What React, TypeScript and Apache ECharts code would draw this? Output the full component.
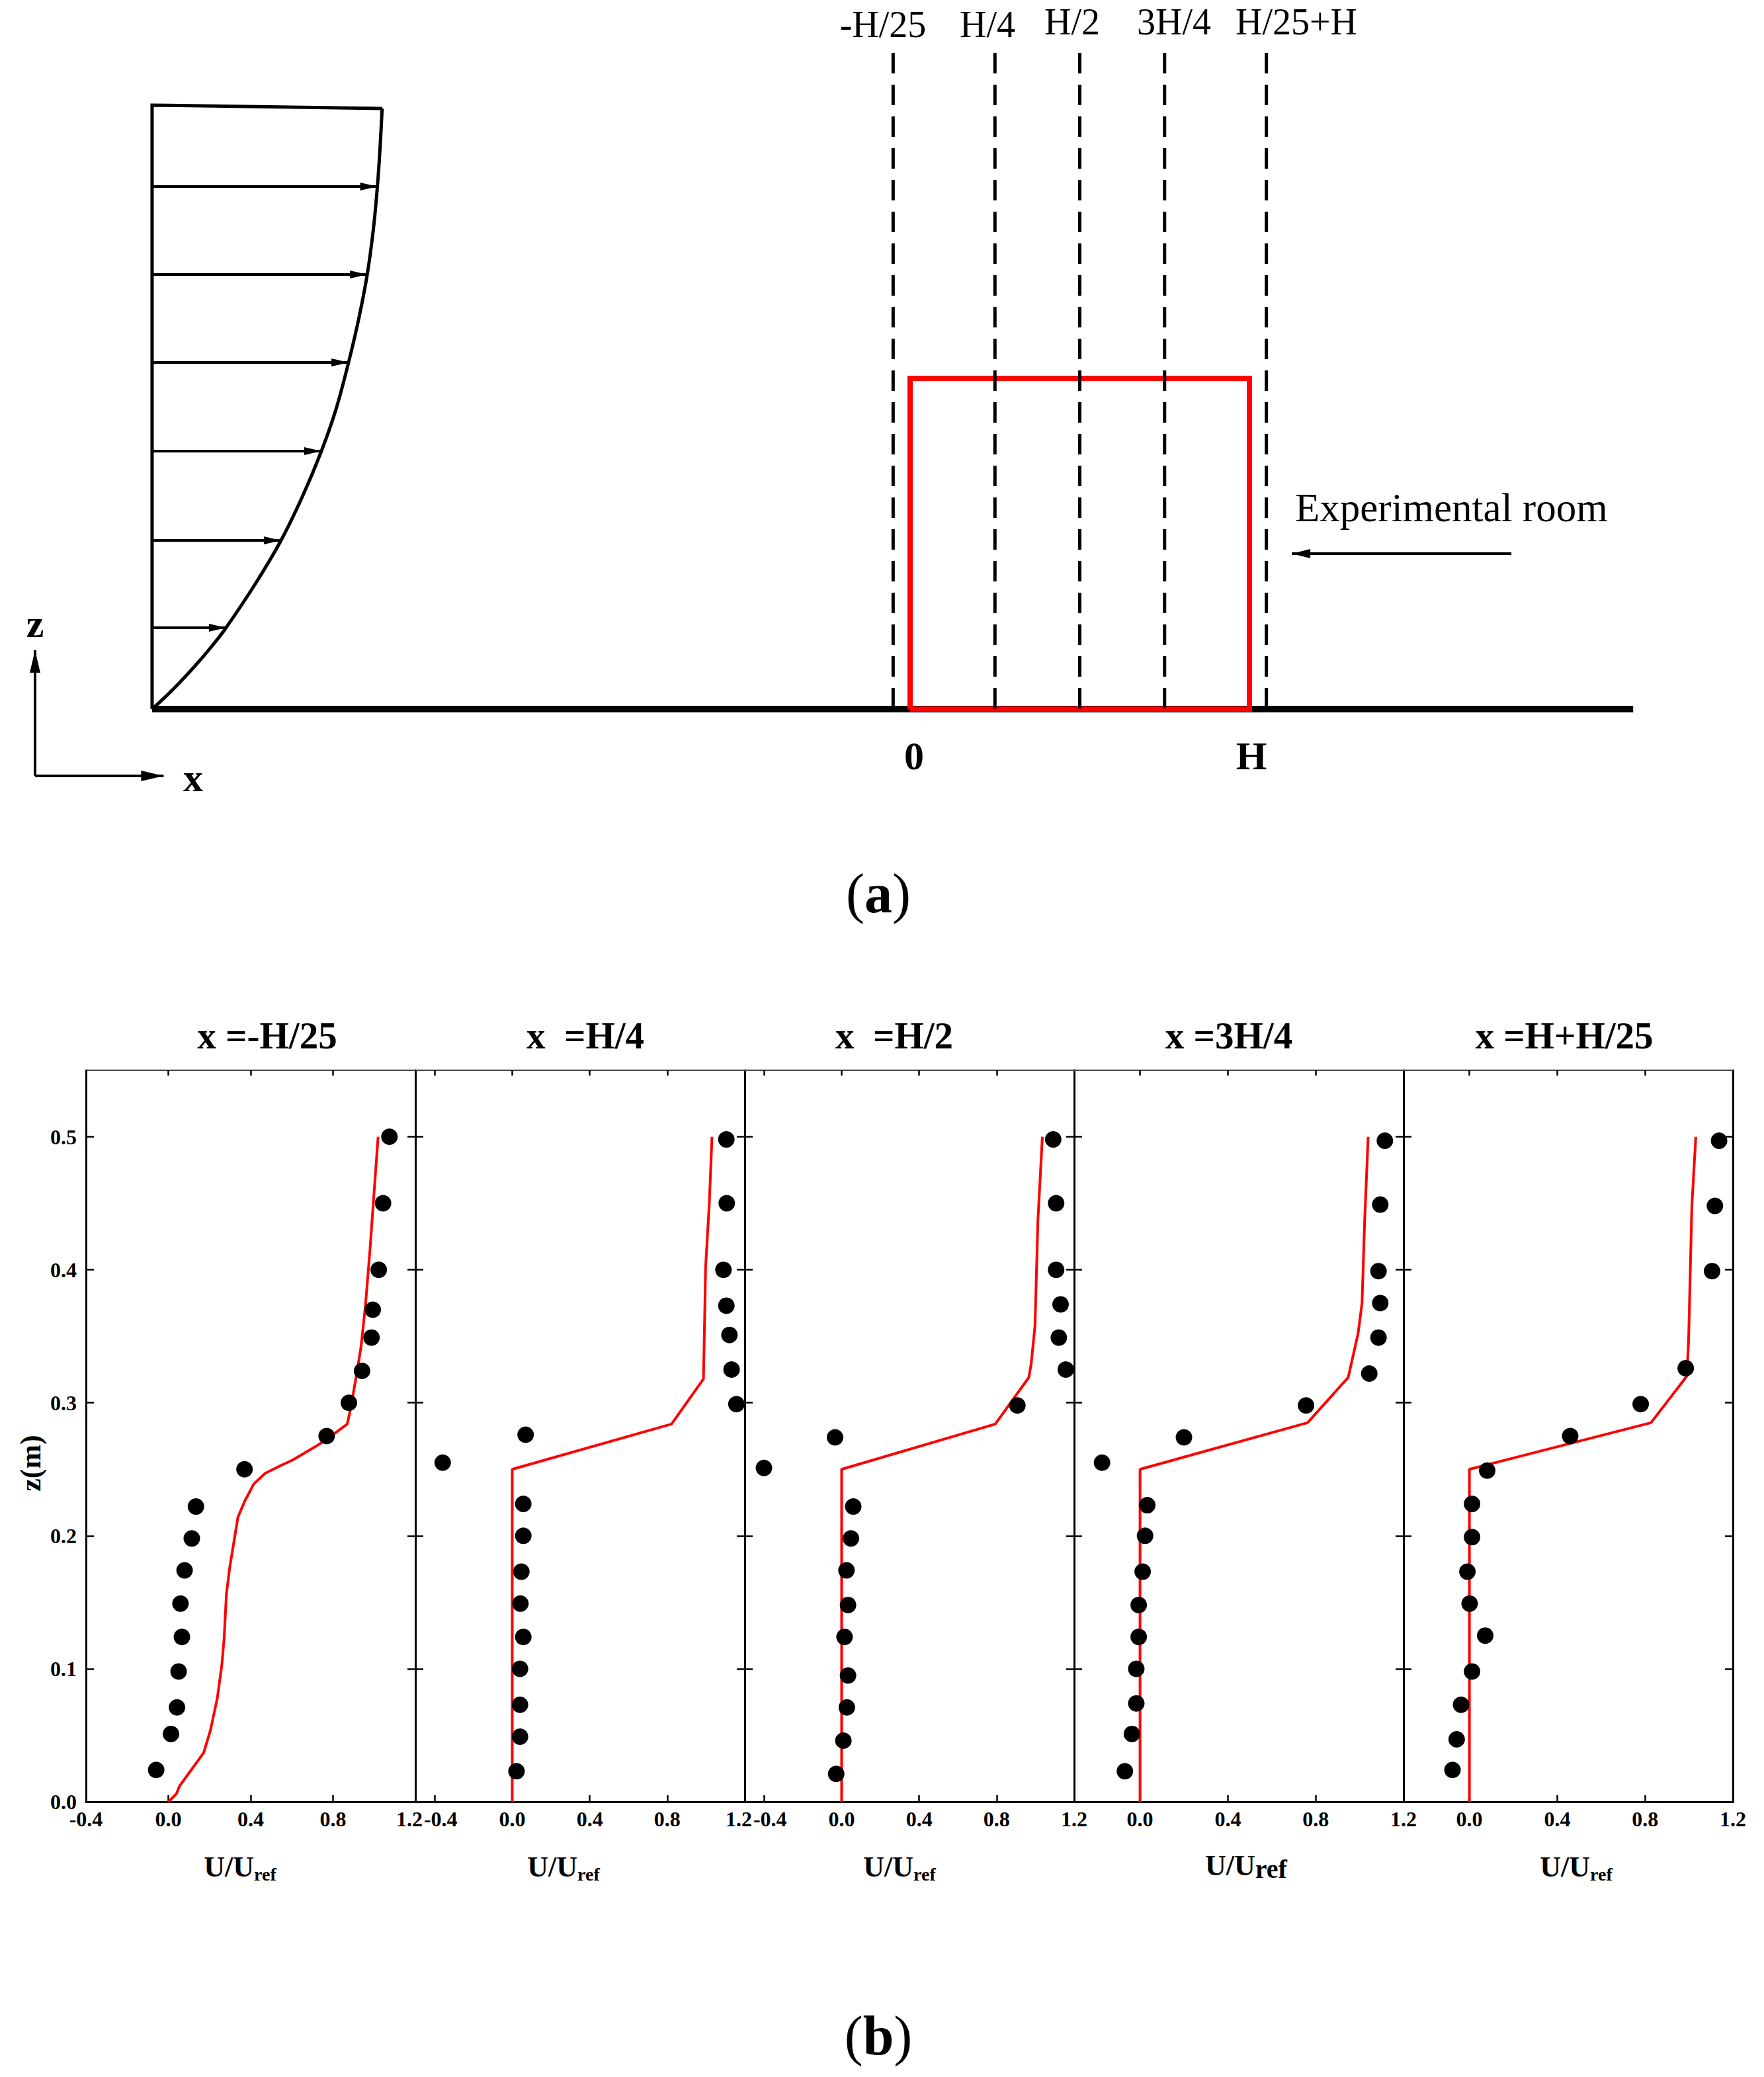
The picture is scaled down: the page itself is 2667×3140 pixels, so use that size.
import React, { useEffect, useRef } from 'react';
import * as echarts from 'echarts';

const W = 2667;
const HGT = 3140;
const SERIF = '"Liberation Serif", "Times New Roman", serif';

// ---------- (a) schematic, in building units (H = 1) ----------
const PROBE_X = [-0.05, 0.25, 0.5, 0.75, 1.05];
const PROBE_LABELS = ['-H/25', 'H/4', 'H/2', '3H/4', 'H/25+H'];
const PROBE_TOP = 1.984;
const BUILDING_X = [0, 1, 1, 0, 0];
const BUILDING_Z = [0, 0, 1, 1, 0];
const INLET_X = -2.234;
const GROUND_END_X = 2.131;
const PROFILE_Z = [0, 0.06, 0.13, 0.19, 0.246, 0.38, 0.51, 0.645, 0.78, 0.91, 1.048, 1.18, 1.314, 1.45, 1.58, 1.7, 1.816];
const PROFILE_U = [0, 0.062, 0.126, 0.176, 0.218, 0.305, 0.38, 0.444, 0.499, 0.543, 0.579, 0.609, 0.634, 0.652, 0.664, 0.672, 0.678];
const PROFILE_TOP_Z = 1.826;
const ARROW_Z = [0.246, 0.51, 0.78, 1.048, 1.314, 1.58];
const ARROW_U = [0.218, 0.38, 0.499, 0.579, 0.634, 0.664];
const ROOM_ARROW_X = [1.772, 1.125];
const ROOM_ARROW_Z = 0.47;
const ICON_ORIGIN = [-2.579, -0.202];
const ICON_Z_TIP = 0.178;
const ICON_X_TIP = -2.2;

// ---------- (b) profiles ----------
const PANEL_TITLES = ['x =-H/25', 'x  =H/4', 'x  =H/2', 'x =3H/4', 'x =H+H/25'];
const PANEL_XMIN = [-0.4, -0.5, -0.5, -0.3, -0.3];
const X_MAX = 1.2;
const X_TICKS = [
  [-0.4, 0, 0.4, 0.8, 1.2],
  [-0.4, 0, 0.4, 0.8],
  [-0.4, 0, 0.4, 0.8],
  [0, 0.4, 0.8],
  [0, 0.4, 0.8],
];
const X_LABELS = [
  [-0.4, 0, 0.4, 0.8, 1.2],
  [-0.4, 0, 0.4, 0.8, 1.2],
  [-0.4, 0, 0.4, 0.8, 1.2],
  [0, 0.4, 0.8, 1.2],
  [0, 0.4, 0.8, 1.2],
];
const Y_MAX = 0.55;
const Y_TICKS = [0.1, 0.2, 0.3, 0.4, 0.5];
const Y_LABELS = [0, 0.1, 0.2, 0.3, 0.4, 0.5];

const EXP_U_1 = [1.074, 1.043, 1.022, 0.993, 0.987, 0.941, 0.877, 0.769, 0.37, 0.134, 0.114, 0.079, 0.059, 0.066, 0.05, 0.042, 0.013, -0.059];
const EXP_Z_1 = [0.5, 0.45, 0.4, 0.37, 0.349, 0.324, 0.3, 0.275, 0.25, 0.222, 0.198, 0.174, 0.149, 0.124, 0.098, 0.071, 0.051, 0.024];
const CFD_U_1 = [0, 0.039, 0.055, 0.116, 0.172, 0.205, 0.238, 0.26, 0.271, 0.282, 0.299, 0.316, 0.338, 0.371, 0.415, 0.471, 0.548, 0.604, 0.714, 0.764, 0.869, 0.886, 0.914, 0.936, 0.958, 0.98, 0.997, 1.019];
const CFD_Z_1 = [0, 0.006, 0.012, 0.025, 0.037, 0.054, 0.078, 0.103, 0.123, 0.156, 0.177, 0.193, 0.214, 0.226, 0.239, 0.247, 0.253, 0.257, 0.267, 0.272, 0.284, 0.296, 0.321, 0.342, 0.374, 0.416, 0.453, 0.5];

const EXP_U_2 = [1.105, 1.107, 1.09, 1.105, 1.121, 1.132, 1.157, 0.069, -0.359, 0.057, 0.057, 0.047, 0.042, 0.057, 0.04, 0.04, 0.04, 0.022];
const EXP_Z_2 = [0.498, 0.45, 0.4, 0.373, 0.351, 0.325, 0.299, 0.276, 0.255, 0.224, 0.2, 0.173, 0.149, 0.124, 0.1, 0.073, 0.049, 0.023];
const CFD_U_2 = [0, 0, 0.822, 0.987, 0.998, 1.017, 1.031];
const CFD_Z_2 = [0, 0.25, 0.284, 0.318, 0.402, 0.45, 0.5];

const EXP_U_3 = [1.092, 1.107, 1.107, 1.13, 1.121, 1.157, 0.907, -0.034, -0.401, 0.06, 0.048, 0.025, 0.033, 0.015, 0.033, 0.027, 0.009, -0.028];
const EXP_Z_3 = [0.498, 0.45, 0.4, 0.374, 0.349, 0.325, 0.298, 0.274, 0.251, 0.222, 0.198, 0.174, 0.148, 0.124, 0.095, 0.071, 0.046, 0.021];
const CFD_U_3 = [0, 0, 0.793, 0.966, 0.978, 0.998, 1.013, 1.036];
const CFD_Z_3 = [0, 0.25, 0.284, 0.319, 0.329, 0.358, 0.437, 0.5];

const EXP_U_4 = [1.115, 1.094, 1.086, 1.094, 1.086, 1.044, 0.756, 0.2, -0.173, 0.033, 0.023, 0.012, -0.006, -0.006, -0.017, -0.017, -0.037, -0.069];
const EXP_Z_4 = [0.497, 0.449, 0.399, 0.375, 0.349, 0.322, 0.298, 0.274, 0.255, 0.223, 0.2, 0.173, 0.148, 0.124, 0.1, 0.074, 0.051, 0.023];
const CFD_U_4 = [0, 0, 0.763, 0.948, 0.993, 1.011, 1.023, 1.039];
const CFD_Z_4 = [0, 0.25, 0.285, 0.319, 0.352, 0.375, 0.437, 0.5];

const EXP_U_5 = [1.137, 1.118, 1.105, 0.985, 0.78, 0.459, 0.081, 0.012, 0.012, -0.009, 0.001, 0.072, 0.012, -0.038, -0.058, -0.077];
const EXP_Z_5 = [0.497, 0.448, 0.399, 0.326, 0.299, 0.275, 0.249, 0.224, 0.199, 0.173, 0.149, 0.125, 0.098, 0.073, 0.047, 0.024];
const CFD_U_5 = [0, 0, 0.827, 0.99, 0.998, 1.013, 1.031];
const CFD_Z_5 = [0, 0.25, 0.285, 0.32, 0.346, 0.448, 0.5];

const EXP_U = [EXP_U_1, EXP_U_2, EXP_U_3, EXP_U_4, EXP_U_5];
const EXP_Z = [EXP_Z_1, EXP_Z_2, EXP_Z_3, EXP_Z_4, EXP_Z_5];
const CFD_U = [CFD_U_1, CFD_U_2, CFD_U_3, CFD_U_4, CFD_U_5];
const CFD_Z = [CFD_Z_1, CFD_Z_2, CFD_Z_3, CFD_Z_4, CFD_Z_5];

// ---------- layout ----------
const A_X0_PX = 1376;
const A_UNIT_X = 513;
const A_GROUND_PX = 1072;
const A_UNIT_Z = 500;
const A_HEIGHT = 1200;

const PANEL_LEFT = 130;
const PANEL_W = 498;
const PANEL_TOP = 1618;
const PANEL_H = 1106;
const TITLE_CX = [404, 885, 1352, 1858, 2365];
const TITLE_Y = 1565;
const NAME_SHIFT = [-16, -25, -15, 11, 12];
const RIGHT_EDGE_NUDGE = [true, true, false, false, false];
const LEFT_EDGE_NUDGE = [false, true, true, false, false];

const fmt1 = (v: number) => (Math.abs(v) < 1e-9 ? '0.0' : v.toFixed(1));
const inList = (list: number[], v: number) => list.some((l) => Math.abs(l - v) < 1e-6);

function arrow(x1: number, z1: number, x2: number, z2: number, w: number, h: number) {
  return [
    { coord: [x1, z1], symbol: 'none' },
    { coord: [x2, z2], symbol: 'triangle', symbolSize: [w, h], symbolOffset: [0, h / 2] },
  ];
}

function markLineBase(data: any[], width: number) {
  return {
    silent: true,
    animation: false,
    symbol: ['none', 'triangle'],
    symbolSize: 20,
    label: { show: false },
    emphasis: { disabled: true },
    lineStyle: { color: '#000', width, type: 'solid', opacity: 1 },
    data,
  };
}

function txt(x: number, y: number, text: string, size: number, weight = 'normal', align = 'center', rich?: any) {
  return {
    type: 'text',
    x,
    y,
    silent: true,
    style: {
      text,
      fontSize: size,
      fontFamily: SERIF,
      fontWeight: weight,
      fill: '#000',
      align,
      verticalAlign: 'middle',
      textAlign: align,
      textVerticalAlign: 'middle',
      rich,
    },
  };
}

const tickLabelStyle = { fontFamily: SERIF, fontWeight: 'bold', fontSize: 32, color: '#000' };

function buildOption() {
  const grid: any[] = [{ left: 0, top: 0, width: W, height: A_HEIGHT }];
  const xAxis: any[] = [
    {
      type: 'value',
      gridIndex: 0,
      show: false,
      min: -A_X0_PX / A_UNIT_X,
      max: (W - A_X0_PX) / A_UNIT_X,
    },
  ];
  const yAxis: any[] = [
    {
      type: 'value',
      gridIndex: 0,
      show: false,
      min: -(A_HEIGHT - A_GROUND_PX) / A_UNIT_Z,
      max: A_GROUND_PX / A_UNIT_Z,
    },
  ];

  const series: any[] = [];

  series.push({
    type: 'line',
    xAxisIndex: 0,
    yAxisIndex: 0,
    data: [
      [INLET_X, 0],
      [GROUND_END_X, 0],
    ],
    symbol: 'none',
    silent: true,
    z: 2,
    lineStyle: { color: '#000', width: 10, cap: 'butt' },
    markLine: markLineBase(
      [
        arrow(ICON_ORIGIN[0], ICON_ORIGIN[1], ICON_ORIGIN[0], ICON_Z_TIP, 16, 34),
        arrow(ICON_ORIGIN[0], ICON_ORIGIN[1], ICON_X_TIP, ICON_ORIGIN[1], 16, 34),
        arrow(ROOM_ARROW_X[0], ROOM_ARROW_Z, ROOM_ARROW_X[1], ROOM_ARROW_Z, 14, 28),
      ],
      4
    ),
  });

  series.push({
    type: 'line',
    xAxisIndex: 0,
    yAxisIndex: 0,
    data: BUILDING_X.map((x, i) => [x, BUILDING_Z[i]]),
    symbol: 'none',
    silent: true,
    z: 3,
    lineStyle: { color: '#ff0000', width: 8, join: 'miter' },
  });

  PROBE_X.forEach((x) => {
    series.push({
      type: 'line',
      xAxisIndex: 0,
      yAxisIndex: 0,
      data: [
        [x, PROBE_TOP],
        [x, 0],
      ],
      symbol: 'none',
      silent: true,
      z: 4,
      lineStyle: { color: '#000', width: 5, type: [31, 17], cap: 'butt' },
    });
  });

  series.push({
    type: 'line',
    xAxisIndex: 0,
    yAxisIndex: 0,
    data: PROFILE_U.map((u, i) => [INLET_X + u, PROFILE_Z[i]]),
    symbol: 'none',
    silent: true,
    smooth: 0.3,
    z: 3,
    lineStyle: { color: '#000', width: 5, join: 'round' },
  });

  const topU = PROFILE_U[PROFILE_U.length - 1];
  const topZ = PROFILE_Z[PROFILE_Z.length - 1];
  series.push({
    type: 'line',
    xAxisIndex: 0,
    yAxisIndex: 0,
    data: [
      [INLET_X + topU, topZ],
      [INLET_X, PROFILE_TOP_Z],
      [INLET_X, 0],
    ],
    symbol: 'none',
    silent: true,
    z: 3,
    lineStyle: { color: '#000', width: 5, join: 'miter' },
    markLine: markLineBase(
      ARROW_Z.map((z, i) => arrow(INLET_X, z, INLET_X + ARROW_U[i], z, 12, 26)),
      4
    ),
  });

  for (let i = 0; i < 5; i++) {
    grid.push({ left: PANEL_LEFT + i * PANEL_W, top: PANEL_TOP, width: PANEL_W, height: PANEL_H });
    const gi = i + 1;
    const labels = X_LABELS[i];
    const shift = NAME_SHIFT[i];
    const namePad = shift < 0 ? [0, -2 * shift, 0, 0] : [0, 0, 0, 2 * shift];
    const subSize = i === 3 ? 40 : 28;
    const subPad = i === 3 ? 25 : 29;
    const nudgeR = RIGHT_EDGE_NUDGE[i];
    const nudgeL = LEFT_EDGE_NUDGE[i];
    xAxis.push({
      type: 'value',
      gridIndex: gi,
      position: 'bottom',
      min: PANEL_XMIN[i],
      max: X_MAX,
      interval: 0.4,
      axisLine: { show: true, onZero: false, lineStyle: { color: '#000', width: 3 } },
      axisTick: {
        show: true,
        inside: true,
        length: 10,
        customValues: X_TICKS[i],
        lineStyle: { color: '#000', width: 2.5 },
      },
      axisLabel: {
        show: true,
        customValues: labels,
        formatter: (v: number) => {
          if (!inList(labels, v)) return '';
          if (nudgeR && Math.abs(v - X_MAX) < 1e-6) return '{r|' + fmt1(v) + '}';
          if (nudgeL && Math.abs(v + 0.4) < 1e-6) return '{l|' + fmt1(v) + '}';
          return fmt1(v);
        },
        ...tickLabelStyle,
        margin: 10,
        rich: {
          r: { ...tickLabelStyle, padding: [0, 18, 0, 0] },
          l: { ...tickLabelStyle, padding: [0, 0, 0, 18] },
        },
      },
      splitLine: { show: false },
      name: '{u|U/U}{s|ref}',
      nameLocation: 'middle',
      nameGap: i === 3 ? 71 : 73,
      nameTextStyle: {
        padding: namePad,
        rich: {
          u: { fontFamily: SERIF, fontWeight: 'bold', fontSize: 44, lineHeight: 50, color: '#000', verticalAlign: 'middle' },
          s: {
            fontFamily: SERIF,
            fontWeight: 'bold',
            fontSize: subSize,
            lineHeight: subSize,
            color: '#000',
            verticalAlign: 'bottom',
            padding: [subPad, 0, 0, 0],
          },
        },
      },
    });
    xAxis.push({
      type: 'value',
      gridIndex: gi,
      position: 'top',
      min: PANEL_XMIN[i],
      max: X_MAX,
      interval: 0.4,
      axisLine: { show: true, onZero: false, lineStyle: { color: '#444', width: 2 } },
      axisTick: {
        show: true,
        inside: true,
        length: 8,
        customValues: X_TICKS[i].filter((v) => v < 1.2),
        lineStyle: { color: '#000', width: 2.5 },
      },
      axisLabel: { show: false },
      splitLine: { show: false },
    });
    yAxis.push({
      type: 'value',
      gridIndex: gi,
      position: 'left',
      min: 0,
      max: Y_MAX,
      interval: 0.1,
      axisLine: { show: true, onZero: false, lineStyle: { color: '#000', width: 3 } },
      axisTick: {
        show: true,
        inside: true,
        length: 12,
        customValues: Y_TICKS,
        lineStyle: { color: '#000', width: 2.5 },
      },
      axisLabel: {
        show: i === 0,
        customValues: Y_LABELS,
        formatter: (v: number) => (inList(Y_LABELS, v) ? fmt1(v) : ''),
        ...tickLabelStyle,
        margin: 14,
      },
      splitLine: { show: false },
      name: i === 0 ? 'z(m)' : '',
      nameLocation: 'middle',
      nameGap: 62,
      nameTextStyle: {
        fontFamily: SERIF,
        fontWeight: 'bold',
        fontSize: 44,
        color: '#000',
        padding: [0, 82, 0, 0],
      },
    });
    yAxis.push({
      type: 'value',
      gridIndex: gi,
      position: 'right',
      min: 0,
      max: Y_MAX,
      interval: 0.1,
      axisLine: { show: true, onZero: false, lineStyle: { color: '#000', width: 3 } },
      axisTick: {
        show: true,
        inside: true,
        length: 12,
        customValues: Y_TICKS,
        lineStyle: { color: '#000', width: 2.5 },
      },
      axisLabel: { show: false },
      splitLine: { show: false },
    });

    const xi = 1 + 2 * i;
    series.push({
      type: 'line',
      name: 'CFD',
      xAxisIndex: xi,
      yAxisIndex: xi,
      data: CFD_U[i].map((u, k) => [u, CFD_Z[i][k]]),
      symbol: 'none',
      silent: true,
      z: 3,
      lineStyle: { color: '#ff0000', width: 4 },
    });
    series.push({
      type: 'scatter',
      name: 'Experiment',
      xAxisIndex: xi,
      yAxisIndex: xi,
      data: EXP_U[i].map((u, k) => [u, EXP_Z[i][k]]),
      symbol: 'circle',
      symbolSize: 25,
      silent: true,
      z: 4,
      itemStyle: { color: '#000', opacity: 1 },
    });
  }

  const graphic: any[] = [];
  const probeCx = [1335, 1493, 1621, 1775, 1960];
  const probeCy = [37, 37, 33, 33, 33];
  PROBE_LABELS.forEach((t, k) => graphic.push(txt(probeCx[k], probeCy[k], t, 56)));
  graphic.push(txt(1958, 767, 'Experimental room', 61, 'normal', 'left'));
  graphic.push(txt(1382, 1143, '0', 60, 'bold'));
  graphic.push(txt(1892, 1143, 'H', 60, 'bold'));
  graphic.push(txt(53, 943, 'z', 60, 'bold'));
  graphic.push(txt(292, 1176, 'x', 60, 'bold'));
  const parenRich = {
    p: { fontFamily: SERIF, fontSize: 84, fontWeight: 'normal', fill: '#000', color: '#000' },
    b: { fontFamily: SERIF, fontSize: 84, fontWeight: 'bold', fill: '#000', color: '#000' },
  };
  graphic.push(txt(1328, 1350, '{p|(}{b|a}{p|)}', 84, 'normal', 'center', parenRich));
  graphic.push(txt(1328, 3077, '{p|(}{b|b}{p|)}', 84, 'normal', 'center', parenRich));
  PANEL_TITLES.forEach((t, k) => graphic.push(txt(TITLE_CX[k], TITLE_Y, t, 57, 'bold')));

  return {
    animation: false,
    backgroundColor: '#ffffff',
    grid,
    xAxis,
    yAxis,
    series,
    graphic,
  };
}

export default function App() {
  const ref = useRef<HTMLDivElement>(null);
  useEffect(() => {
    if (!ref.current) return;
    const chart = echarts.init(ref.current, undefined, { renderer: 'svg', width: W, height: HGT });
    chart.setOption(buildOption() as any);
    return () => chart.dispose();
  }, []);
  return (
    <div
      ref={ref}
      style={{ position: 'absolute', left: 0, top: 0, width: W, height: HGT, background: '#fff' }}
    />
  );
}
